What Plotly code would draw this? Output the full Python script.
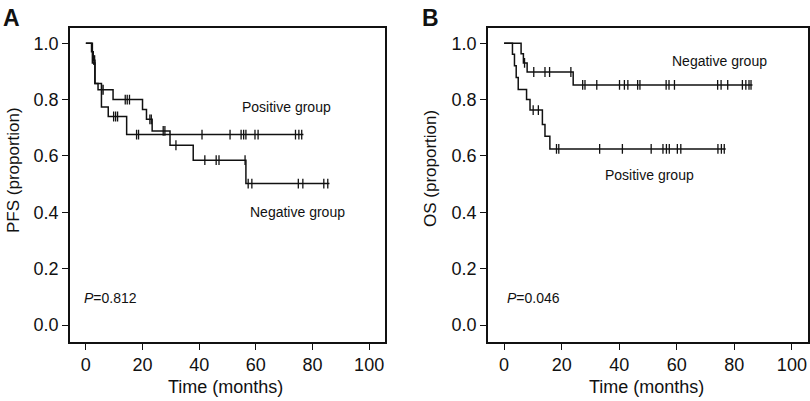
import numpy as np
import plotly.graph_objects as go

# Panel A - PFS
pfs_pos_t = [0, 2.3, 3.2, 5.5, 7.9, 14.4]
pfs_pos_s = [1.0, 0.93, 0.857, 0.774, 0.74, 0.676]
pfs_pos_end = 76.8
pfs_pos_cens = [9.8, 10.5, 11.2, 17.9, 18.6, 41.0, 50.9, 54.8, 55.7, 56.5,
                59.7, 60.8, 74.0, 75.2, 76.2]

pfs_neg_t = [0, 2.0, 2.6, 3.2, 4.3, 9.6, 20.0, 21.4, 23.4, 29.7, 37.9, 56.5]
pfs_neg_s = [1.0, 0.97, 0.94, 0.857, 0.835, 0.80, 0.765, 0.73, 0.689, 0.638, 0.585, 0.502]
pfs_neg_end = 86.0
pfs_neg_cens = [2.8, 3.1, 5.6, 6.1, 13.9, 14.6, 15.4, 22.6, 23.1, 27.3, 27.9,
                31.8, 42.0, 46.0, 47.0, 56.2, 57.3, 58.6, 75.0, 76.6, 84.0, 85.4]

# Panel B - OS
os_pos_t = [0, 2.9, 3.6, 4.2, 4.9, 7.8, 9.0, 13.3, 14.2, 15.9]
os_pos_s = [1.0, 0.961, 0.92, 0.878, 0.836, 0.80, 0.763, 0.712, 0.67, 0.625]
os_pos_end = 77.0
os_pos_cens = [10.1, 11.9, 18.2, 19.0, 33.2, 41.1, 51.1, 55.2, 56.4, 57.4,
               60.2, 61.4, 74.3, 75.5, 76.5]

os_neg_t = [0, 5.9, 6.7, 8.0, 24.0]
os_neg_s = [1.0, 0.963, 0.93, 0.898, 0.852]
os_neg_end = 86.3
os_neg_cens = [7.1, 10.3, 14.2, 15.8, 23.2, 27.3, 28.1, 32.2, 40.1, 41.8, 43.0,
               46.4, 47.2, 56.3, 57.3, 59.2, 74.2, 75.4, 77.7, 82.8, 84.0, 85.1, 85.8]

FONT = "Liberation Sans, Arial, sans-serif"
INK = "#111111"


def surv_at(times, vals, t):
    idx = np.searchsorted(times, t, side="right") - 1
    return [vals[i] for i in idx]


def km_traces(times, vals, end, cens, xa, ya):
    line = go.Scatter(x=times + [end], y=vals + [vals[-1]], mode="lines",
                      line=dict(color=INK, width=1.5, shape="hv"),
                      xaxis=xa, yaxis=ya, showlegend=False, hoverinfo="skip")
    marks = go.Scatter(x=cens, y=surv_at(times, vals, cens), mode="markers",
                       marker=dict(symbol="line-ns", size=7,
                                   line=dict(color=INK, width=1.3)),
                       xaxis=xa, yaxis=ya, showlegend=False, hoverinfo="skip")
    return [line, marks]


fig = go.Figure()
for tr in km_traces(pfs_pos_t, pfs_pos_s, pfs_pos_end, pfs_pos_cens, "x", "y"):
    fig.add_trace(tr)
for tr in km_traces(pfs_neg_t, pfs_neg_s, pfs_neg_end, pfs_neg_cens, "x", "y"):
    fig.add_trace(tr)
for tr in km_traces(os_pos_t, os_pos_s, os_pos_end, os_pos_cens, "x2", "y2"):
    fig.add_trace(tr)
for tr in km_traces(os_neg_t, os_neg_s, os_neg_end, os_neg_cens, "x2", "y2"):
    fig.add_trace(tr)

xa_common = dict(range=[-5.6, 105.6], tickvals=[0, 20, 40, 60, 80, 100],
                 showgrid=False, zeroline=False, showline=True, mirror=True,
                 linecolor=INK, linewidth=1.6, ticks="outside", ticklen=6,
                 tickwidth=1.4, tickcolor=INK,
                 tickfont=dict(family=FONT, size=18, color=INK))
ya_common = dict(range=[-0.06, 1.053], tickvals=[0, 0.2, 0.4, 0.6, 0.8, 1.0],
                 tickformat=".1f", showgrid=False, zeroline=False, showline=True,
                 mirror=True, linecolor=INK, linewidth=1.6, ticks="outside",
                 ticklen=6, tickwidth=1.4, tickcolor=INK,
                 tickfont=dict(family=FONT, size=18, color=INK))

fig.update_layout(
    width=810, height=401,
    margin=dict(l=0, r=0, t=0, b=0),
    paper_bgcolor="white", plot_bgcolor="white",
    font=dict(family=FONT, color=INK),
    xaxis=dict(domain=[70 / 810, 385 / 810], anchor="y", **xa_common),
    yaxis=dict(domain=[59 / 401, 372.7 / 401], anchor="x", **ya_common),
    xaxis2=dict(domain=[488 / 810, 808 / 810], anchor="y2", **xa_common),
    yaxis2=dict(domain=[59 / 401, 372.7 / 401], anchor="x2", **ya_common),
)

txt = dict(showarrow=False, font=dict(family=FONT, size=14, color=INK))
fig.add_annotation(x=71, y=0.774, xref="x", yref="y", text="Positive group", **txt)
fig.add_annotation(x=74.6, y=0.40, xref="x", yref="y", text="Negative group", **txt)
fig.add_annotation(x=-1.2, y=0.095, xref="x", yref="y", text="<i>P</i>=0.812",
                   xanchor="left", **txt)
fig.add_annotation(x=74.7, y=0.937, xref="x2", yref="y2", text="Negative group", **txt)
fig.add_annotation(x=50.5, y=0.534, xref="x2", yref="y2", text="Positive group", **txt)
fig.add_annotation(x=0.3, y=0.097, xref="x2", yref="y2", text="<i>P</i>=0.046",
                   xanchor="left", **txt)

# axis titles and panel letters (positions in window pixels)
def paper_text(px, py, text, size=18, angle=0):
    fig.add_annotation(x=px / 810, y=(401 - py) / 401, xref="paper", yref="paper",
                       xanchor="center", yanchor="middle", showarrow=False,
                       text=text, textangle=angle,
                       font=dict(family=FONT, size=size, color=INK))


paper_text(225, 387, "Time (months)")
paper_text(646, 387, "Time (months)")
paper_text(13, 170, "PFS (proportion)", size=17, angle=-90)
paper_text(431, 169, "OS (proportion)", size=17, angle=-90)
paper_text(11, 18, "<b>A</b>", size=23)
paper_text(430, 18, "<b>B</b>", size=23)

# drop the browser's default 8px body margin so the figure fills the window
fig.write_html("out.html", config={"displayModeBar": False},
               post_script="document.body.style.margin='0';document.body.style.overflow='hidden';")
